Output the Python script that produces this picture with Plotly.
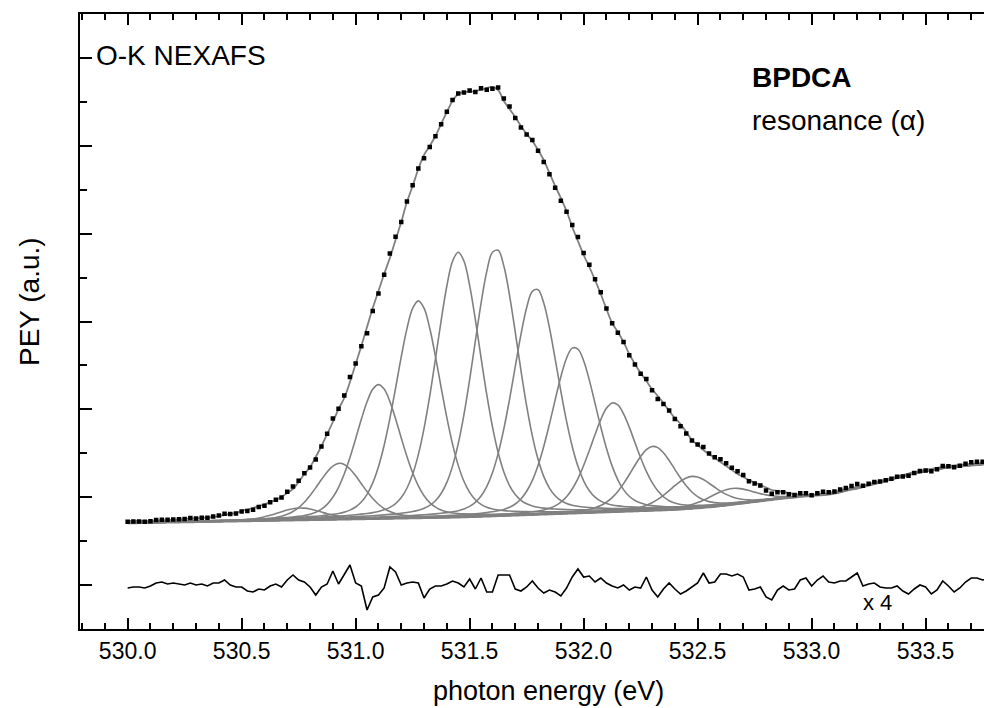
import numpy as np
import plotly.graph_objects as go

# ---------------- data ----------------
# photon energy grid of the measurement (eV)
energy = np.round(530.0 + 0.025 * np.arange(153), 3)

# fitted envelope (PEY, a.u.)
fit_envelope = [
    0.64, 0.64, 0.64, 0.64, 0.64, 0.645, 0.645, 0.65, 0.65, 0.655,
    0.66, 0.665, 0.665, 0.67, 0.675, 0.68, 0.69, 0.70, 0.71, 0.72,
    0.74, 0.755, 0.77, 0.79, 0.805, 0.83, 0.85, 0.88, 0.92, 0.96,
    1.03, 1.11, 1.18, 1.28, 1.39, 1.51, 1.63, 1.76, 1.87, 2.03,
    2.21, 2.39, 2.58, 2.77, 2.94, 3.11, 3.27, 3.45, 3.63, 3.83,
    3.99, 4.16, 4.30, 4.39, 4.49, 4.61, 4.73, 4.84, 4.91, 4.93,
    4.93, 4.94, 4.95, 4.97, 4.98, 4.95, 4.84, 4.76, 4.68, 4.59,
    4.51, 4.44, 4.35, 4.25, 4.12, 3.99, 3.87, 3.74, 3.58, 3.44,
    3.30, 3.18, 3.05, 2.91, 2.76, 2.62, 2.53, 2.43, 2.31, 2.21,
    2.12, 2.04, 1.96, 1.89, 1.82, 1.74, 1.67, 1.61, 1.53, 1.45,
    1.40, 1.35, 1.31, 1.27, 1.23, 1.19, 1.15, 1.11, 1.08, 1.05,
    1.025, 1.00, 0.975, 0.95, 0.94, 0.93, 0.92, 0.91, 0.905, 0.90,
    0.90, 0.905, 0.91, 0.92, 0.93, 0.945, 0.96, 0.97, 0.98, 0.995,
    1.01, 1.025, 1.04, 1.055, 1.07, 1.085, 1.10, 1.115, 1.13, 1.14,
    1.15, 1.16, 1.17, 1.18, 1.19, 1.195, 1.20, 1.205, 1.21, 1.215,
    1.22, 1.225, 1.23]

# residual (data - fit), as displayed magnified x4 (a.u.)
residual_x4 = [
    -0.03, -0.02, -0.02, -0.03, -0.01, 0.02, 0.03, 0.01, 0.02, 0.01,
    0.0, 0.02, 0.0, 0.01, -0.01, 0.02, 0.02, 0.05, 0.0, -0.02,
    -0.02, -0.06, -0.07, -0.04, -0.05, -0.01, 0.01, -0.02, 0.05, 0.10,
    0.05, 0.03, -0.02, -0.10, -0.02, 0.01, 0.14, 0.01, 0.10, 0.20,
    0.02, -0.01, -0.25, -0.12, -0.10, -0.03, 0.18, 0.13, 0.0, 0.02,
    0.03, 0.02, -0.13, -0.04, -0.01, -0.01, 0.01, 0.04, 0.02, -0.02,
    0.06, -0.04, 0.07, -0.07, -0.07, 0.10, 0.10, 0.10, -0.04, -0.06,
    -0.02, 0.04, -0.03, -0.08, -0.05, -0.07, -0.11, -0.03, 0.08, 0.16,
    0.08, 0.09, 0.03, 0.07, 0.02, -0.01, -0.03, 0.0, -0.05, -0.02,
    -0.03, 0.08, -0.05, -0.12, -0.04, 0.02, -0.04, -0.09, -0.06, -0.02,
    0.02, 0.12, 0.02, 0.03, 0.11, 0.11, 0.09, 0.11, 0.08, -0.05,
    -0.04, -0.02, -0.12, -0.15, -0.05, -0.01, -0.05, -0.04, 0.05, 0.07,
    -0.01, 0.05, 0.09, 0.03, 0.02, 0.04, 0.04, 0.08, 0.12, -0.01,
    0.01, 0.02, -0.02, -0.03, -0.03, -0.01, -0.06, -0.09, -0.04, 0.0,
    -0.02, -0.09, -0.05, 0.04, -0.01, -0.07, -0.03, 0.03, 0.07, 0.07,
    0.05, 0.06, 0.05]

# background (step edge) under the fit components (a.u.)
background = [
    0.620, 0.621, 0.622, 0.623, 0.624, 0.625, 0.626, 0.627, 0.628, 0.629,
    0.630, 0.631, 0.632, 0.633, 0.634, 0.635, 0.636, 0.637, 0.638, 0.639,
    0.640, 0.641, 0.642, 0.643, 0.644, 0.645, 0.646, 0.647, 0.648, 0.649,
    0.650, 0.651, 0.652, 0.653, 0.654, 0.655, 0.656, 0.657, 0.658, 0.659,
    0.660, 0.661, 0.662, 0.663, 0.664, 0.665, 0.666, 0.667, 0.668, 0.669,
    0.670, 0.671, 0.672, 0.673, 0.674, 0.675, 0.676, 0.677, 0.678, 0.680,
    0.682, 0.684, 0.686, 0.688, 0.690, 0.692, 0.694, 0.696, 0.698, 0.700,
    0.702, 0.704, 0.706, 0.708, 0.710, 0.712, 0.714, 0.716, 0.718, 0.720,
    0.722, 0.724, 0.726, 0.728, 0.730, 0.732, 0.734, 0.736, 0.738, 0.740,
    0.742, 0.744, 0.746, 0.748, 0.750, 0.752, 0.755, 0.758, 0.762, 0.766,
    0.770, 0.775, 0.780, 0.786, 0.792, 0.798, 0.805, 0.812, 0.819, 0.826,
    0.833, 0.840, 0.847, 0.854, 0.861, 0.867, 0.873, 0.879, 0.885, 0.890,
    0.895, 0.899, 0.903, 0.909, 0.917, 0.929, 0.945, 0.958, 0.968, 0.983,
    0.998, 1.013, 1.028, 1.043, 1.058, 1.073, 1.088, 1.103, 1.118, 1.128,
    1.138, 1.148, 1.158, 1.168, 1.178, 1.183, 1.188, 1.193, 1.198, 1.203,
    1.208, 1.213, 1.218]

# fit components (vibronic progression): centre (eV), height (a.u.), FWHM (eV)
peak_centers = [530.755, 530.93, 531.10, 531.275, 531.45, 531.615,
                531.79, 531.96, 532.13, 532.305, 532.475, 532.65]
peak_heights = [0.12, 0.56, 1.34, 2.17, 2.65, 2.67,
                2.26, 1.66, 1.09, 0.64, 0.32, 0.16]
peak_fwhm = [0.235] * 12
lorentz_fraction = 0.25

# measured data = fit + residual (residual shown x4)
pey_data = np.array(fit_envelope) + np.array(residual_x4) / 4.0
bg = np.array(background)

FONT = "Liberation Sans, Arial, Helvetica, sans-serif"
GRAY = "#808080"

fig = go.Figure()

for c, h, w in zip(peak_centers, peak_heights, peak_fwhm):
    u = (energy - c) / w
    shape = ((1 - lorentz_fraction) * np.exp(-4 * np.log(2) * u ** 2)
             + lorentz_fraction / (1 + 4 * u ** 2))
    fig.add_trace(go.Scatter(x=energy, y=bg + h * shape, mode="lines",
                             line=dict(color=GRAY, width=1.6, shape="spline"),
                             hoverinfo="skip"))

fig.add_trace(go.Scatter(x=energy, y=bg, mode="lines",
                         line=dict(color=GRAY, width=2.6, shape="spline"),
                         hoverinfo="skip"))

fig.add_trace(go.Scatter(x=energy, y=fit_envelope, mode="lines",
                         line=dict(color=GRAY, width=1.8, shape="spline")))

fig.add_trace(go.Scatter(x=energy, y=pey_data, mode="markers",
                         marker=dict(symbol="square", size=4.5, color="black",
                                     line=dict(width=0))))

fig.add_trace(go.Scatter(x=energy, y=residual_x4, mode="lines",
                         line=dict(color="black", width=1.6)))

ann_font = dict(family=FONT, size=28, color="black")
fig.update_layout(
    width=984, height=708,
    margin=dict(l=80, r=0, t=14, b=79),
    paper_bgcolor="white", plot_bgcolor="white",
    showlegend=False,
    font=dict(family=FONT, color="black"),
    xaxis=dict(range=[529.791, 533.756], showline=True, linecolor="black",
               linewidth=2, mirror="ticks", ticks="inside", ticklen=11,
               tickwidth=2, tickcolor="black", tick0=530, dtick=0.5,
               tickformat=".1f", tickfont=dict(family=FONT, size=23),
               showgrid=False, zeroline=False,
               minor=dict(ticks="inside", ticklen=6, tickwidth=1.5,
                          tickcolor="black", dtick=0.1, showgrid=False)),
    yaxis=dict(range=[-0.44, 5.71], showline=True, linecolor="black",
               linewidth=2, mirror=False, ticks="inside", ticklen=12,
               tickwidth=2, tickcolor="black", tick0=0, dtick=0.8783,
               showticklabels=False, showgrid=False, zeroline=False,
               minor=dict(ticks="inside", ticklen=7, tickwidth=1.5,
                          tickcolor="black", dtick=0.43915, showgrid=False)),
    annotations=[
        dict(text="O-K NEXAFS", xref="paper", yref="paper", x=0.0155, y=0.9333,
             xanchor="left", yanchor="middle", showarrow=False, font=ann_font),
        dict(text="<b>BPDCA</b>", xref="paper", yref="paper", x=0.7412, y=0.896,
             xanchor="left", yanchor="middle", showarrow=False, font=ann_font),
        dict(text="resonance (α)", xref="paper", yref="paper", x=0.7412, y=0.8276,
             xanchor="left", yanchor="middle", showarrow=False, font=ann_font),
        dict(text="x 4", xref="paper", yref="paper", x=0.8640, y=0.0423,
             xanchor="left", yanchor="middle", showarrow=False,
             font=dict(family=FONT, size=22, color="black")),
        dict(text="PEY (a.u.)", xref="paper", yref="paper", x=-0.0564, y=0.5317,
             xanchor="center", yanchor="middle", textangle=-90, showarrow=False,
             font=ann_font),
        dict(text="photon energy (eV)", xref="paper", yref="paper", x=0.5188,
             y=-0.1008, xanchor="center", yanchor="middle", showarrow=False,
             font=dict(family=FONT, size=27, color="black")),
    ],
)

fig.write_html("out.html")
